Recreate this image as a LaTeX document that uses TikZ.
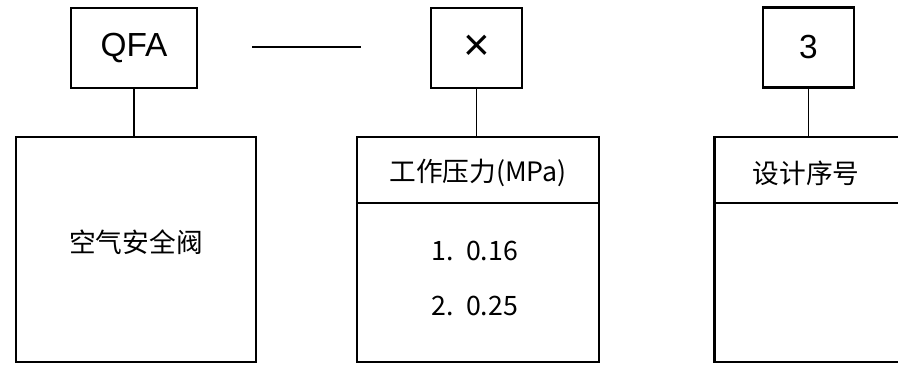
\documentclass[tikz,border=0pt]{standalone}
\usepackage{fontspec}
\setmainfont{Liberation Sans}
\newfontfamily\cjk{Noto Sans CJK SC}
\tikzset{
  codebox/.style={draw, line width=1.3pt, inner sep=0pt, font=\fontsize{19}{22}\selectfont},
  databox/.style={draw, line width=1.3pt, inner sep=0pt},
  link/.style={line width=0.6pt},
  entry/.style={font=\cjk\fontsize{15.2}{18}\selectfont}
}

\begin{document}
\begin{tikzpicture}[x=0.02cm, y=-0.02cm]
		\useasboundingbox (0,0) rectangle (898,372);
		\clip (0,0) rectangle (898,372);

		% code boxes
		\node[codebox, minimum width=2.52cm, minimum height=1.6cm] (qfa) at (134,48) {QFA};
		\node[codebox, minimum width=1.82cm, minimum height=1.6cm, font=\fontsize{26}{28}\selectfont] (cross) at (476.5,48) {×};
		\node[codebox, minimum width=1.82cm, minimum height=1.6cm] (num) at (808.5,47.5) {3};

		\coordinate (dashl) at (252,47);
		\coordinate (dashr) at (361,47);
		\draw[link] (dashl) -- (dashr);

		% meaning boxes
		\node[databox, minimum width=4.8cm, minimum height=4.5cm] (valve) at (136,249.5) {};
		\node[databox, minimum width=4.84cm, minimum height=4.5cm] (press) at (478,249.5) {};
		\node[databox, minimum width=3.8cm, minimum height=4.5cm] (design) at (809.5,249.5) {};

		\draw[link] (qfa.south) -- (qfa.south |- valve.north);
		\draw[link] (cross.south) -- (cross.south |- press.north);
		\draw[link] (num.south) -- (num.south |- design.north);

		\draw[link] (press.west |- 0,203) -- (press.east |- 0,203);
		\draw[link] (design.west |- 0,203) -- (design.east |- 0,203);

		\node[entry] (valvetxt) at (136,242) {空气安全阀};
		\node[entry] (presshead) at (478,173) {工作压力(MPa)};
		\node[entry] (pressa) at (475,251) {1.\ \ 0.16};
		\node[entry] (pressb) at (475,306) {2.\ \ 0.25};
		\node[entry] (designhead) at (806,173) {设计序号};
	\end{tikzpicture}
\end{document}
